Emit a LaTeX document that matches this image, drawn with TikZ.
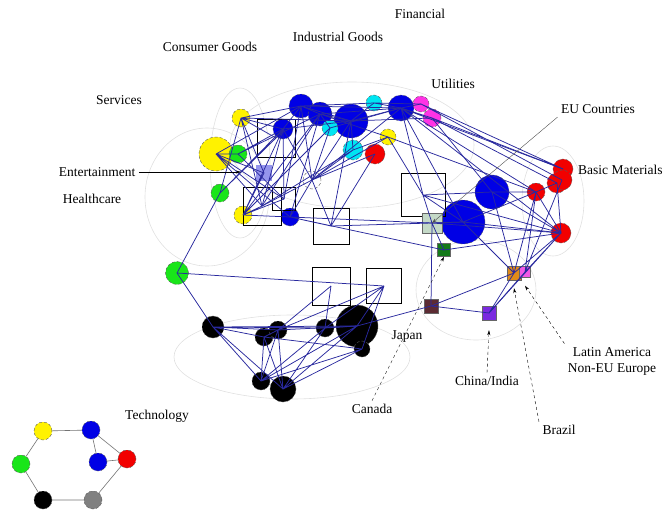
\documentclass[tikz,border=0pt]{standalone}
\usepackage{fontspec}
\setmainfont{Liberation Serif}
\usepackage{tikz}
\usetikzlibrary{arrows.meta}
\definecolor{edgeblue}{rgb}{0.16, 0.16, 0.62}
\definecolor{hubblue}{rgb}{0.0, 0.0, 0.9}
\definecolor{hubcyan}{rgb}{0.0, 0.9, 0.95}
\definecolor{hubred}{rgb}{0.95, 0.0, 0.0}
\definecolor{hubyellow}{rgb}{1.0, 0.95, 0.0}
\definecolor{hubgreen}{rgb}{0.1, 0.9, 0.1}
\definecolor{hubmagenta}{rgb}{1.0, 0.2, 0.9}
\definecolor{lavender1}{rgb}{0.58, 0.58, 0.93}
\definecolor{sage1}{rgb}{0.77, 0.85, 0.78}
\definecolor{green2}{rgb}{0.08, 0.48, 0.1}
\definecolor{brown1}{rgb}{0.36, 0.17, 0.2}
\definecolor{purple1}{rgb}{0.48, 0.16, 0.88}
\definecolor{orange1}{rgb}{0.88, 0.54, 0.1}
\definecolor{pink1}{rgb}{0.95, 0.35, 0.9}
\definecolor{ring}{rgb}{0.88, 0.88, 0.88}

\begin{document}
\begin{tikzpicture}[x=1pt, y=-1pt, font=\fontsize{13.5}{15}\selectfont]
\tikzstyle{hub} = [circle, inner sep=0pt, draw=black!65, densely dashed, line width=0.4pt];
\tikzstyle{box} = [rectangle, inner sep=0pt, draw=black, line width=1pt];
\tikzstyle{cty} = [rectangle, inner sep=0pt, draw=black!60, line width=0.4pt];
\tikzstyle{edge} = [edgeblue, line width=0.75pt];
\tikzstyle{grp} = [ring, line width=0.6pt];
\tikzstyle{pointer} = [-{Stealth[length=5pt, width=3pt]}, line width=0.4pt];

\useasboundingbox (0,0) rectangle (668,514);

% sector groups
\draw [grp] (240,163) ellipse (30 and 75);
\draw [grp] (207,197) ellipse (62 and 69);
\draw [grp] (352,145) ellipse (122 and 63);
\draw [grp] (553,201) ellipse (31 and 55);
\draw [grp] (476,290) ellipse (60 and 50);
\draw [grp] (292,357) ellipse (118 and 42);

% consumer goods, services, healthcare
\node [hub, fill=hubyellow, minimum size=18pt] (y1) at (241,118) {};
\node [hub, fill=hubyellow, minimum size=34pt] (y2) at (216,154) {};
\node [hub, fill=hubgreen, minimum size=18pt] (g1) at (238,154) {};
\node [hub, fill=hubgreen, minimum size=18pt] (g2) at (220,193) {};
\node [hub, fill=hubyellow, minimum size=18pt] (y3) at (243,215) {};
\node [hub, fill=hubgreen, minimum size=23pt] (g3) at (177,273) {};
\node [hub, fill=hubblue, minimum size=20pt] (b1) at (283,129) {};
\node [hub, fill=hubblue, minimum size=18pt] (b2) at (290,217) {};

% industrial goods, financial, utilities
\node [hub, fill=hubblue, minimum size=24pt] (b3) at (301,106) {};
\node [hub, fill=hubblue, minimum size=24pt] (b4) at (320,114) {};
\node [hub, fill=hubblue, minimum size=34pt] (b5) at (351,121) {};
\node [hub, fill=hubcyan, minimum size=16pt] (c1) at (374,103) {};
\node [hub, fill=hubcyan, minimum size=16pt] (c2) at (330,128) {};
\node [hub, fill=hubcyan, minimum size=20pt] (c3) at (353,150) {};
\node [hub, fill=hubblue, minimum size=26pt] (b6) at (401,108) {};
\node [hub, fill=hubmagenta, minimum size=16pt] (m1) at (421,104) {};
\node [hub, fill=hubmagenta, minimum size=18pt] (m2) at (432,118) {};
\node [hub, fill=hubyellow, minimum size=16pt] (y4) at (388,137) {};
\node [hub, fill=hubred, minimum size=20pt] (r1) at (375,154) {};
\node [hub, fill=white, minimum size=18pt] (w1) at (312,180) {};

% basic materials and the right hand side
\node [hub, fill=hubblue, minimum size=34pt] (b7) at (492,192) {};
\node [hub, fill=hubblue, minimum size=44pt] (b8) at (463,222) {};
\node [hub, fill=hubred, minimum size=18pt] (r2) at (536,192) {};
\node [hub, fill=hubred, minimum size=20pt] (r3) at (563,169) {};
\node [hub, fill=hubred, minimum size=20pt] (r4) at (557,183) {};
\node [hub, fill=hubred, minimum size=20pt] (r5) at (562,180) {};
\node [hub, fill=hubred, minimum size=20pt] (r6) at (561,233) {};

% technology
\node [hub, fill=black, minimum size=22pt] (k1) at (213,327) {};
\node [hub, fill=black, minimum size=18pt] (k2) at (264,337) {};
\node [hub, fill=black, minimum size=18pt] (k3) at (278,330) {};
\node [hub, fill=black, minimum size=18pt] (k4) at (325,328) {};
\node [hub, fill=black, minimum size=42pt] (k5) at (357,326) {};
\node [hub, fill=black, minimum size=16pt] (k6) at (362,349) {};
\node [hub, fill=black, minimum size=18pt] (k7) at (261,381) {};
\node [hub, fill=black, minimum size=26pt] (k8) at (283,389) {};

% aggregate boxes
\node [box, minimum width=38pt, minimum height=38pt] (s1) at (276,138) {};
\node [box, minimum width=38pt, minimum height=38pt] (s2) at (262,206) {};
\node [box, minimum width=23pt, minimum height=23pt] (s3) at (284,199) {};
\node [box, minimum width=36pt, minimum height=36pt] (s4) at (331,226) {};
\node [box, minimum width=44pt, minimum height=43pt] (s5) at (423,195) {};
\node [box, minimum width=38pt, minimum height=38pt] (s6) at (331,286) {};
\node [box, minimum width=35pt, minimum height=35pt] (s7) at (384,286) {};

% countries
\node [cty, fill=lavender1, draw=none, minimum size=16pt] (lav) at (264,173) {};
\node [cty, fill=sage1, minimum size=20pt] (eu) at (432,223) {};
\node [cty, fill=green2, minimum size=13pt] (ca) at (444,250) {};
\node [cty, fill=brown1, minimum size=14pt] (jp) at (431,306) {};
\node [cty, fill=purple1, minimum size=14pt] (cn) at (489,313) {};
\node [cty, fill=orange1, minimum size=14pt] (br) at (514,273) {};
\node [cty, fill=pink1, minimum size=11pt] (la) at (525,272) {};

% links
\draw [edge] (y1.center) -- (b3.center) (y1.center) -- (b1.center) (y1.center) -- (g2.center)
  (y1.center) -- (s2.center) (y1.center) -- (b5.center) (y1.center) -- (lav.center) (y1.center) -- (s1.center);
\draw [edge] (y2.center) -- (g1.center) (y2.center) -- (lav.center) (y2.center) -- (s2.center)
  (y2.center) -- (b3.center) (y2.center) -- (b2.center) (y2.center) -- (s3.center);
\draw [edge] (g1.center) -- (b1.center) (g1.center) -- (s3.center) (g1.center) -- (b4.center);
\draw [edge] (g2.center) -- (g3.center) (g2.center) -- (b1.center) (g2.center) -- (s1.center);
\draw [edge] (y3.center) -- (s2.center) (y3.center) -- (b1.center) (y3.center) -- (b2.center)
  (y3.center) -- (s3.center) (y3.center) -- (b4.center) (y3.center) -- (lav.center) (y3.center) -- (c2.center);
\draw [edge] (b1.center) -- (b3.center) (b1.center) -- (s1.center) (b1.center) -- (s2.center)
  (b1.center) -- (w1.center) (b1.center) -- (b5.center) (b1.center) -- (s3.center);
\draw [edge] (b2.center) -- (eu.center) (b2.center) -- (ca.center) (b2.center) -- (s4.center)
  (b2.center) -- (w1.center) (b2.center) -- (b4.center);
\draw [edge] (g3.center) -- (k1.center) (g3.center) -- (s7.center);
\draw [edge] (b3.center) -- (b4.center) (b3.center) -- (b5.center) (b3.center) -- (c1.center)
  (b3.center) -- (b6.center) (b3.center) -- (s3.center) (b3.center) -- (w1.center);
\draw [edge] (b4.center) -- (b5.center) (b4.center) -- (c2.center) (b4.center) -- (s2.center)
  (b4.center) -- (b6.center) (b4.center) -- (y4.center);
\draw [edge] (b5.center) -- (c1.center) (b5.center) -- (b6.center) (b5.center) -- (c3.center)
  (b5.center) -- (w1.center) (b5.center) -- (m2.center) (b5.center) -- (s4.center);
\draw [edge] (c1.center) -- (b6.center) (c1.center) -- (m1.center);
\draw [edge] (c2.center) -- (w1.center) (c2.center) -- (b6.center) (c3.center) -- (w1.center)
  (c3.center) -- (s2.center) (c3.center) -- (y4.center);
\draw [edge] (b6.center) -- (m1.center) (b6.center) -- (m2.center) (b6.center) -- (w1.center)
  (b6.center) -- (b8.center) (b6.center) -- (s5.center) (b6.center) -- (r2.center) (b6.center) -- (r6.center)
  (b6.center) -- (r3.center);
\draw [edge] (m1.center) -- (r3.center) (m2.center) -- (r4.center) (m2.center) -- (r3.center)
  (m2.center) -- (b7.center) (m1.center) -- (r5.center);
\draw [edge] (y4.center) -- (w1.center) (y4.center) -- (s5.center) (y4.center) -- (r2.center)
  (r1.center) -- (w1.center) (r1.center) -- (s4.center) (w1.center) -- (s4.center) (w1.center) -- (s2.center);
\draw [edge] (s5.center) -- (b8.center) (s5.center) -- (b7.center) (s5.center) -- (eu.center)
  (s5.center) -- (r6.center) (s4.center) -- (eu.center) (s4.center) -- (b8.center);
\draw [edge] (eu.center) -- (b8.center) (eu.center) -- (jp.center) (eu.center) -- (ca.center)
  (eu.center) -- (r6.center);
\draw [edge] (b7.center) -- (r2.center) (b7.center) -- (r6.center) (b7.center) -- (br.center)
  (b8.center) -- (r6.center) (b8.center) -- (r2.center) (b8.center) -- (br.center);
\draw [edge] (r2.center) -- (r4.center) (r2.center) -- (r6.center) (r2.center) -- (br.center)
  (r2.center) -- (la.center) (r4.center) -- (r6.center) (r5.center) -- (la.center)
  (r6.center) -- (br.center) (r6.center) -- (la.center) (r6.center) -- (cn.center) (ca.center) -- (r6.center);
\draw [edge] (jp.center) -- (br.center) (jp.center) -- (cn.center) (cn.center) -- (br.center)
  (cn.center) -- (la.center) (jp.center) -- (k5.center);
\draw [edge] (k1.center) -- (k2.center) (k1.center) -- (k3.center) (k1.center) -- (k4.center)
  (k1.center) -- (k5.center) (k1.center) -- (k7.center) (k1.center) -- (k8.center);
\draw [edge] (k2.center) -- (k3.center) (k2.center) -- (k7.center) (k2.center) -- (k8.center)
  (k2.center) -- (k6.center) (k3.center) -- (k7.center) (k3.center) -- (k8.center) (k3.center) -- (k5.center);
\draw [edge] (k4.center) -- (k5.center) (k4.center) -- (k7.center) (k4.center) -- (k8.center)
  (k5.center) -- (k7.center) (k5.center) -- (k8.center) (k6.center) -- (k7.center) (k6.center) -- (k8.center);
\draw [edge] (k3.center) -- (s6.center) (k4.center) -- (s7.center) (k5.center) -- (s7.center)
  (k6.center) -- (s7.center) (k3.center) -- (s7.center) (k4.center) -- (s6.center);

% labels
\node (fin) at (420,14) {Financial};
\node (ind) at (338,37) {Industrial Goods};
\node (con) at (210,47) {Consumer Goods};
\node (uti) at (453,84) {Utilities};
\node (ser) at (119,100) {Services};
\node (euc) at (598,109) {EU Countries};
\node [anchor=west, inner sep=0pt] (bas) at (578,170) {Basic Materials};
\node (ent) at (97,172) {Entertainment};
\node (hea) at (92,199) {Healthcare};
\node (jap) at (407,337) {Japan};
\node (chi) at (487,381) {China/India};
\node (can) at (372,409) {Canada};
\node [align=center, font=\fontsize{13.5}{16}\selectfont] (lat) at (612,361) {Latin America\\Non-EU Europe};
\node (bra) at (559,430) {Brazil};
\node (tec) at (157,416) {Technology};

\coordinate (entTip) at (241,172);
\draw [pointer] (ent.east) -- (entTip);
\draw [pointer, black!70] (euc.south west) -- (eu.center);
\draw [pointer, dashed] (can.north) -- (ca.south);
\draw [pointer, dashed] (chi.north) -- ([yshift=-10pt]cn.south);
\draw [pointer, dashed] (bra.north west) -- ([yshift=-8pt]br.south);
\draw [pointer, dashed] (lat.north west) -- ([yshift=-8pt]la.south);

% legend
\node [hub, fill=hubyellow, minimum size=18pt] (ly) at (43,431) {};
\node [hub, fill=hubblue, minimum size=18pt] (lb1) at (91,430) {};
\node [hub, fill=hubblue, minimum size=18pt] (lb2) at (98,462) {};
\node [hub, fill=hubred, minimum size=18pt] (lr) at (127,459) {};
\node [hub, fill=hubgreen, minimum size=18pt] (lg) at (21,464) {};
\node [hub, fill=black, minimum size=18pt] (lk) at (43,500) {};
\node [hub, fill=gray, minimum size=18pt] (lgr) at (93,500) {};
\draw [black!55, line width=0.6pt] (ly) -- (lb1) (lb1) -- (lb2) (lb1) -- (lr) (lb2) -- (lr)
  (ly) -- (lg) (lg) -- (lk) (lk) -- (lgr) (lgr) -- (lr);
\end{tikzpicture}
\end{document}
